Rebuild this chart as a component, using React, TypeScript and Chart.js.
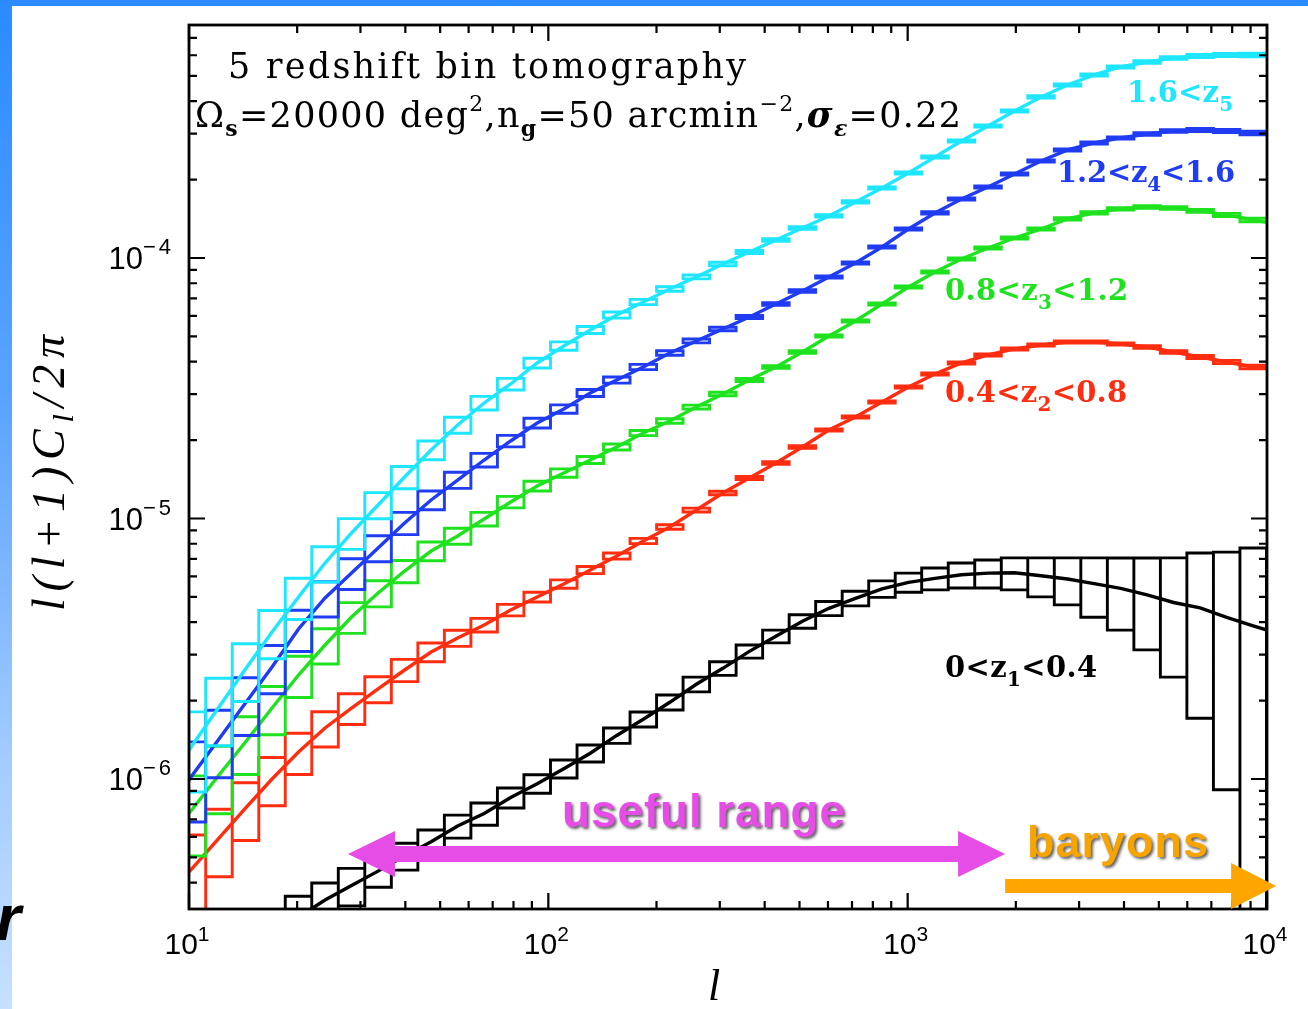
import React, { useEffect, useRef } from 'react';
import { Chart, registerables } from 'chart.js';

Chart.register(...registerables);

// ---------------- data ----------------
// multipole bin edges (log-spaced bins)
const binEdges = [9.391, 11.13, 13.19, 15.64, 18.53, 21.96, 26.03, 30.85, 36.57, 43.34, 51.37, 60.88, 72.16, 85.52, 101.4, 120.2, 142.4, 168.8, 200.1, 237.1, 281.0, 333.1, 394.8, 467.9, 554.6, 657.3, 779.1, 923.4, 1094, 1297, 1537, 1822, 2159, 2559, 3033, 3595, 4261, 5050, 5985, 7094, 8408, 9966];

// fractional error of each bin for the four high-z bins
const relErrTomo = [0.34, 0.29, 0.25, 0.21, 0.18, 0.155, 0.135, 0.115, 0.098, 0.083, 0.071, 0.06, 0.051, 0.043, 0.037, 0.031, 0.027, 0.023, 0.02, 0.017, 0.015, 0.013, 0.012, 0.011, 0.01, 0.01, 0.01, 0.01, 0.01, 0.01, 0.01, 0.01, 0.01, 0.01, 0.01, 0.01, 0.011, 0.012, 0.013, 0.014, 0.015];

// l(l+1)C_l/2pi at bin centres
const bin5Cyan = [1.351e-6, 1.890e-6, 2.644e-6, 3.667e-6, 4.996e-6, 6.748e-6, 8.799e-6, 1.127e-5, 1.443e-5, 1.832e-5, 2.286e-5, 2.776e-5, 3.283e-5, 3.954e-5, 4.595e-5, 5.292e-5, 6.041e-5, 6.778e-5, 7.603e-5, 8.456e-5, 9.484e-5, 1.054e-4, 1.172e-4, 1.304e-4, 1.450e-4, 1.641e-4, 1.857e-4, 2.120e-4, 2.442e-4, 2.813e-4, 3.211e-4, 3.667e-4, 4.151e-4, 4.615e-4, 5.041e-4, 5.410e-4, 5.655e-4, 5.858e-4, 5.962e-4, 6.015e-4, 6.015e-4];
const bin4Blue = [1.036e-6, 1.424e-6, 1.958e-6, 2.691e-6, 3.766e-6, 4.953e-6, 6.176e-6, 7.705e-6, 9.610e-6, 1.178e-5, 1.405e-5, 1.677e-5, 1.984e-5, 2.326e-5, 2.633e-5, 3.033e-5, 3.401e-5, 3.816e-5, 4.319e-5, 4.802e-5, 5.339e-5, 5.936e-5, 6.659e-5, 7.469e-5, 8.456e-5, 9.568e-5, 1.102e-4, 1.292e-4, 1.489e-4, 1.685e-4, 1.873e-4, 2.101e-4, 2.357e-4, 2.598e-4, 2.764e-4, 2.889e-4, 2.993e-4, 3.073e-4, 3.100e-4, 3.073e-4, 3.019e-4];
const bin3Green = [7.672e-7, 1.036e-6, 1.387e-6, 1.873e-6, 2.507e-6, 3.269e-6, 4.188e-6, 5.176e-6, 6.286e-6, 7.502e-6, 8.569e-6, 9.956e-6, 1.157e-5, 1.333e-5, 1.495e-5, 1.677e-5, 1.882e-5, 2.129e-5, 2.368e-5, 2.679e-5, 3.006e-5, 3.401e-5, 3.816e-5, 4.357e-5, 5.018e-5, 5.731e-5, 6.659e-5, 7.739e-5, 8.838e-5, 9.912e-5, 1.092e-4, 1.193e-4, 1.292e-4, 1.412e-4, 1.489e-4, 1.543e-4, 1.570e-4, 1.556e-4, 1.516e-4, 1.463e-4, 1.399e-4];
const bin2Red = [4.552e-7, 5.936e-7, 7.740e-7, 1.000e-6, 1.270e-6, 1.570e-6, 1.873e-6, 2.216e-6, 2.621e-6, 3.073e-6, 3.477e-6, 3.901e-6, 4.455e-6, 4.996e-6, 5.606e-6, 6.342e-6, 7.178e-6, 8.199e-6, 9.278e-6, 1.078e-5, 1.253e-5, 1.430e-5, 1.633e-5, 1.882e-5, 2.186e-5, 2.453e-5, 2.801e-5, 3.197e-5, 3.587e-5, 3.954e-5, 4.244e-5, 4.475e-5, 4.636e-5, 4.760e-5, 4.760e-5, 4.677e-5, 4.553e-5, 4.357e-5, 4.169e-5, 3.988e-5, 3.816e-5];
const bin1Black = [1.45e-7, 1.75e-7, 2.1e-7, 2.5e-7, 2.95e-7, 3.43e-7, 3.9e-7, 4.43e-7, 5.07e-7, 5.74e-7, 6.6e-7, 7.37e-7, 8.49e-7, 9.6e-7, 1.096e-6, 1.256e-6, 1.47e-6, 1.696e-6, 1.97e-6, 2.31e-6, 2.66e-6, 3.09e-6, 3.53e-6, 4.03e-6, 4.52e-6, 4.94e-6, 5.37e-6, 5.69e-6, 5.89e-6, 6.08e-6, 6.17e-6, 6.19e-6, 6.03e-6, 5.86e-6, 5.62e-6, 5.39e-6, 5.09e-6, 4.76e-6, 4.54e-6, 4.17e-6, 3.87e-6];
// absolute error of the low-z bin (shot noise dominated at high l)
const bin1BlackErr = [0.55e-7, 0.6e-7, 0.6e-7, 0.6e-7, 0.6e-7, 0.56e-7, 0.64e-7, 0.59e-7, 0.6e-7, 0.63e-7, 0.67e-7, 0.72e-7, 0.75e-7, 0.78e-7, 0.87e-7, 0.94e-7, 1.0e-7, 1.12e-7, 1.3e-7, 1.5e-7, 1.6e-7, 1.8e-7, 2.0e-7, 2.4e-7, 2.8e-7, 3.2e-7, 3.9e-7, 4.8e-7, 5.7e-7, 6.7e-7, 7.6e-7, 8.7e-7, 1.03e-6, 1.2e-6, 1.44e-6, 1.66e-6, 1.96e-6, 2.3e-6, 2.83e-6, 3.26e-6, 3.84e-6];

// curve values at l = 10 and l = 10^4
const bin5Ends = [1.29e-6, 6.02e-4];
const bin4Ends = [9.9e-7, 2.99e-4];
const bin3Ends = [7.4e-7, 1.37e-4];
const bin2Ends = [4.4e-7, 3.78e-5];
const bin1Ends = [1.4e-7, 3.73e-6];

// axis tick labels (powers of ten)
const xTickExponents = [1, 2, 3, 4];
const yTickExponents = [-6, -5, -4];

// series labels: [main, subscript, tail]
const seriesLabelText = [
  ['1.6<z', '5', ''],
  ['1.2<z', '4', '<1.6'],
  ['0.8<z', '3', '<1.2'],
  ['0.4<z', '2', '<0.8'],
  ['0<z', '1', '<0.4'],
];

// ---------------- layout / style ----------------
const X_MIN = 10;
const X_MAX = 10000;
const Y_MIN = 3.17e-7;
const Y_MAX = 7.84e-4;

const CYAN = '#1ee6ff';
const BLUE = '#1f3cf2';
const GREEN = '#1ee21e';
const RED = '#ff2d10';
const BLACK = '#000000';
const MAGENTA = '#e64de6';
const ORANGE = '#ffa500';

const SERIF = '"DejaVu Serif", serif';
const SANS = '"Liberation Sans", Arial, sans-serif';
const TIMES = '"Liberation Serif", "Times New Roman", serif';

// label anchors in data coordinates (left edge, baseline) and target widths
const labelAnchors = [
  { l: 4080, v: 3.97e-4, w: 106, color: CYAN },
  { l: 2605, v: 1.957e-4, w: 178, color: BLUE },
  { l: 1271, v: 6.9e-5, w: 183, color: GREEN },
  { l: 1271, v: 2.8e-5, w: 182, color: RED },
  { l: 1271, v: 2.463e-6, w: 152, color: BLACK },
];
const usefulRange = { l1: 27.7, l2: 1867, v: 5.153e-7, textL: 109.2, textV: 6.54e-7 };
const baryonRange = { l1: 1867, l2: 10600, v: 3.884e-7, textL: 2149, textV: 5.02e-7 };

type Seg = { t: string; f: string; dy?: number; ls?: number };

function drawRich(
  ctx: CanvasRenderingContext2D,
  segs: Seg[],
  x: number,
  y: number,
  align: 'left' | 'center' | 'right' = 'left',
  width?: number
) {
  const c: any = ctx;
  c.letterSpacing = '0px';
  let nat = 0;
  let n = 0;
  for (const s of segs) {
    ctx.font = s.f;
    const len = [...s.t].length;
    nat += ctx.measureText(s.t).width + (s.ls || 0) * len;
    n += len;
  }
  const extra = width ? (width - nat) / Math.max(1, n - 1) : 0;
  const total = nat + extra * (n - 1);
  let cx = align === 'center' ? x - total / 2 : align === 'right' ? x - total : x;
  ctx.textAlign = 'left';
  ctx.textBaseline = 'alphabetic';
  for (const s of segs) {
    ctx.font = s.f;
    c.letterSpacing = '0px';
    const w = ctx.measureText(s.t).width;
    const len = [...s.t].length;
    const sp = extra + (s.ls || 0);
    c.letterSpacing = `${sp}px`;
    ctx.fillText(s.t, cx, y + (s.dy || 0));
    c.letterSpacing = '0px';
    cx += w + sp * len;
  }
}

function binCentre(i: number) {
  return Math.sqrt(binEdges[i] * binEdges[i + 1]);
}

function curvePath(vals: number[], ends: number[]) {
  return [
    { x: X_MIN, y: ends[0] },
    ...vals.map((v, i) => ({ x: binCentre(i), y: v })),
    { x: X_MAX, y: ends[1] },
  ];
}

function boxPath(vals: number[], errAt: (i: number) => number) {
  const pts: { x: number; y: number | null }[] = [];
  vals.forEach((v, i) => {
    const s = errAt(i);
    const lo = Math.max(v - s, Y_MIN * 1e-3);
    const hi = v + s;
    const a = binEdges[i];
    const b = binEdges[i + 1];
    pts.push({ x: a, y: lo }, { x: a, y: hi }, { x: b, y: hi }, { x: b, y: lo }, { x: a, y: lo }, { x: b, y: null });
  });
  return pts;
}

function curveDs(data: any[], color: string) {
  return {
    data,
    borderColor: color,
    borderWidth: 3.4,
    pointRadius: 0,
    pointHoverRadius: 0,
    fill: false,
    tension: 0,
    clip: 0,
  };
}

function boxDs(data: any[], color: string) {
  return {
    data,
    borderColor: color,
    borderWidth: 2.9,
    pointRadius: 0,
    pointHoverRadius: 0,
    fill: false,
    tension: 0,
    spanGaps: false,
    borderJoinStyle: 'miter',
    borderCapStyle: 'square',
    clip: 0,
  };
}

const decorPlugin = {
  id: 'decor',
  afterDatasetsDraw(chart: any) {
    const ctx: CanvasRenderingContext2D = chart.ctx;
    const a = chart.chartArea;
    const xs = chart.scales.x;
    const ys = chart.scales.y;
    ctx.save();

    // frame
    ctx.strokeStyle = '#000';
    ctx.lineWidth = 2.8;
    ctx.strokeRect(a.left, a.top, a.right - a.left, a.bottom - a.top);

    // inward ticks on all four sides
    ctx.lineWidth = 2.2;
    ctx.beginPath();
    for (let e = 1; e <= 4; e++) {
      for (let s = 1; s <= 9; s++) {
        const v = s * Math.pow(10, e);
        if (v > X_MAX * 1.0001) continue;
        const px = xs.getPixelForValue(v);
        const len = s === 1 ? 16 : 8;
        ctx.moveTo(px, a.bottom);
        ctx.lineTo(px, a.bottom - len);
        ctx.moveTo(px, a.top);
        ctx.lineTo(px, a.top + len);
      }
    }
    for (let e = -7; e <= -3; e++) {
      for (let s = 1; s <= 9; s++) {
        const v = s * Math.pow(10, e);
        if (v < Y_MIN || v > Y_MAX) continue;
        const py = ys.getPixelForValue(v);
        const len = s === 1 ? 16 : 8;
        ctx.moveTo(a.left, py);
        ctx.lineTo(a.left + len, py);
        ctx.moveTo(a.right, py);
        ctx.lineTo(a.right - len, py);
      }
    }
    ctx.stroke();

    // tick labels
    ctx.fillStyle = '#000';
    for (const e of xTickExponents) {
      const px = xs.getPixelForValue(Math.pow(10, e));
      drawRich(ctx, [
        { t: '10', f: `30px ${SANS}` },
        { t: String(e), f: `21px ${SANS}`, dy: -13 },
      ], px - 2, a.bottom + 45, 'center');
    }
    for (const e of yTickExponents) {
      const py = ys.getPixelForValue(Math.pow(10, e));
      drawRich(ctx, [
        { t: '10', f: `31px ${SANS}` },
        { t: '\u2212' + Math.abs(e), f: `22px ${SANS}`, dy: -15, ls: 3 },
      ], a.left - 15, py + 11, 'right');
    }

    // axis titles
    drawRich(ctx, [{ t: 'l', f: `italic 44px ${TIMES}` }], (a.left + a.right) / 2 - 14, 1000, 'center');
    ctx.save();
    ctx.translate(64, (a.top + a.bottom) / 2 + 6);
    ctx.rotate(-Math.PI / 2);
    drawRich(ctx, [
      { t: 'l(l+1)C', f: `italic 46px ${TIMES}` },
      { t: 'l', f: `italic 30px ${TIMES}`, dy: 9 },
      { t: '/2\u03c0', f: `italic 46px ${TIMES}` },
    ], 0, 0, 'center', 276);
    ctx.restore();

    // header text
    drawRich(ctx, [{ t: '5 redshift bin tomography', f: `35px ${SERIF}` }], a.left + 39, a.top + 53, 'left', 518);
    drawRich(ctx, [
      { t: '\u03a9', f: `35px ${SERIF}` },
      { t: 's', f: `bold 22px ${SERIF}`, dy: 9 },
      { t: '=20000 deg', f: `35px ${SERIF}` },
      { t: '2', f: `22px ${SERIF}`, dy: -16 },
      { t: ',n', f: `35px ${SERIF}` },
      { t: 'g', f: `bold 22px ${SERIF}`, dy: 9 },
      { t: '=50 arcmin', f: `35px ${SERIF}` },
      { t: '\u22122', f: `22px ${SERIF}`, dy: -16 },
      { t: ',', f: `35px ${SERIF}` },
      { t: '\u03c3', f: `italic bold 35px ${SERIF}` },
      { t: '\u03b5', f: `italic bold 22px ${SERIF}`, dy: 9 },
      { t: '=0.22', f: `35px ${SERIF}` },
    ], a.left + 6, a.top + 102, 'left', 766);

    // series labels
    seriesLabelText.forEach((parts, i) => {
      const an = labelAnchors[i];
      ctx.fillStyle = an.color;
      const segs: Seg[] = [
        { t: parts[0], f: `bold 29px ${SERIF}` },
        { t: parts[1], f: `bold 20px ${SERIF}`, dy: 9 },
      ];
      if (parts[2]) segs.push({ t: parts[2], f: `bold 29px ${SERIF}` });
      drawRich(ctx, segs, xs.getPixelForValue(an.l), ys.getPixelForValue(an.v), 'left', an.w);
    });

    // useful range double arrow
    {
      const x1 = xs.getPixelForValue(usefulRange.l1);
      const x2 = xs.getPixelForValue(usefulRange.l2);
      const y = ys.getPixelForValue(usefulRange.v);
      const hl = 47, hh = 23, sh = 8;
      ctx.fillStyle = MAGENTA;
      ctx.beginPath();
      ctx.moveTo(x1, y);
      ctx.lineTo(x1 + hl, y - hh);
      ctx.lineTo(x1 + hl, y - sh);
      ctx.lineTo(x2 - hl, y - sh);
      ctx.lineTo(x2 - hl, y - hh);
      ctx.lineTo(x2, y);
      ctx.lineTo(x2 - hl, y + hh);
      ctx.lineTo(x2 - hl, y + sh);
      ctx.lineTo(x1 + hl, y + sh);
      ctx.lineTo(x1 + hl, y + hh);
      ctx.closePath();
      ctx.fill();
    }
    // baryons arrow
    {
      const x1 = xs.getPixelForValue(baryonRange.l1);
      const x2 = xs.getPixelForValue(baryonRange.l2);
      const y = ys.getPixelForValue(baryonRange.v);
      const hl = 45, hh = 23, sh = 7;
      ctx.fillStyle = ORANGE;
      ctx.beginPath();
      ctx.moveTo(x1, y - sh);
      ctx.lineTo(x2 - hl, y - sh);
      ctx.lineTo(x2 - hl, y - hh);
      ctx.lineTo(x2, y);
      ctx.lineTo(x2 - hl, y + hh);
      ctx.lineTo(x2 - hl, y + sh);
      ctx.lineTo(x1, y + sh);
      ctx.closePath();
      ctx.fill();
    }

    // annotation texts with shadow
    ctx.shadowColor = 'rgba(40,40,40,0.75)';
    ctx.shadowOffsetX = 2;
    ctx.shadowOffsetY = 2;
    ctx.shadowBlur = 3;
    ctx.fillStyle = MAGENTA;
    drawRich(ctx, [{ t: 'useful range', f: `bold 46px ${SANS}` }], xs.getPixelForValue(usefulRange.textL), ys.getPixelForValue(usefulRange.textV), 'left', 283);
    ctx.fillStyle = '#f7a300';
    drawRich(ctx, [{ t: 'baryons', f: `bold 45px ${SANS}` }], xs.getPixelForValue(baryonRange.textL), ys.getPixelForValue(baryonRange.textV), 'left', 181);
    ctx.restore();
  },
};

export default function App() {
  const ref = useRef<HTMLCanvasElement>(null);
  useEffect(() => {
    const canvas = ref.current;
    if (!canvas) return;
    const chart = new Chart(canvas, {
      type: 'line',
      data: {
        datasets: [
          curveDs(curvePath(bin5Cyan, bin5Ends), CYAN),
          boxDs(boxPath(bin5Cyan, (i) => bin5Cyan[i] * relErrTomo[i]), CYAN),
          curveDs(curvePath(bin4Blue, bin4Ends), BLUE),
          boxDs(boxPath(bin4Blue, (i) => bin4Blue[i] * relErrTomo[i]), BLUE),
          curveDs(curvePath(bin3Green, bin3Ends), GREEN),
          boxDs(boxPath(bin3Green, (i) => bin3Green[i] * relErrTomo[i]), GREEN),
          curveDs(curvePath(bin2Red, bin2Ends), RED),
          boxDs(boxPath(bin2Red, (i) => bin2Red[i] * relErrTomo[i]), RED),
          curveDs(curvePath(bin1Black, bin1Ends), BLACK),
          boxDs(boxPath(bin1Black, (i) => bin1BlackErr[i]), BLACK),
        ] as any,
      },
      options: {
        responsive: false,
        animation: false,
        devicePixelRatio: 1,
        events: [],
        layout: { padding: { left: 189, top: 25, right: 41, bottom: 100 } },
        plugins: {
          legend: { display: false },
          tooltip: { enabled: false },
          title: { display: false },
        },
        scales: {
          x: { type: 'logarithmic', min: X_MIN, max: X_MAX, display: false },
          y: { type: 'logarithmic', min: Y_MIN, max: Y_MAX, display: false },
        },
      } as any,
      plugins: [decorPlugin],
    });
    return () => chart.destroy();
  }, []);

  return (
    <div
      style={{
        position: 'fixed',
        left: 0,
        top: 0,
        width: 1308,
        height: 1009,
        overflow: 'hidden',
        background: 'linear-gradient(180deg, #2a8bff 0%, #5aa4ff 40%, #a2cbff 75%, #c6e0ff 100%)',
      }}
    >
      <div style={{ position: 'absolute', left: 12, top: 6, right: 0, bottom: 0, background: '#ffffff' }} />
      <canvas
        ref={ref}
        width={1308}
        height={1009}
        style={{ position: 'absolute', left: 0, top: 0, width: 1308, height: 1009 }}
      />
      <span
        style={{
          position: 'absolute',
          left: -4,
          top: 886,
          font: `italic bold 64px ${SANS}`,
          lineHeight: '64px',
          color: '#000',
        }}
      >
        r
      </span>
    </div>
  );
}
